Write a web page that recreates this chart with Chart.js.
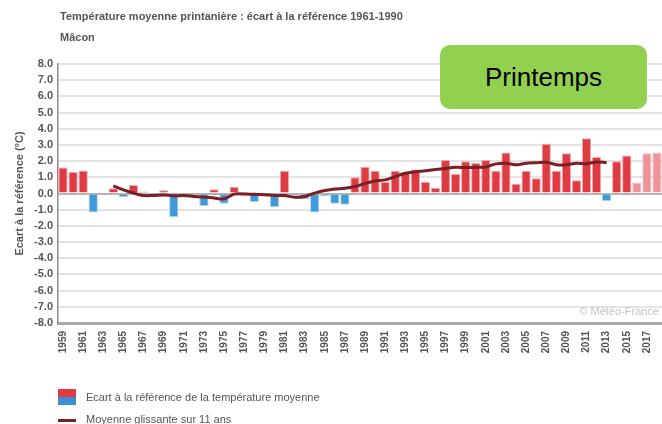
<!DOCTYPE html>
<html>
<head>
<meta charset="utf-8">
<script src="https://cdn.jsdelivr.net/npm/chart.js@4"></script>
<style>
  body { margin: 0; background: #fff; font-family: Arial, "Liberation Sans", sans-serif; }
  #wrap { position: relative; width: 662px; height: 424px; overflow: hidden; }
  #chart { position: absolute; left: 0; top: 0; }
  .titre { position: absolute; left: 60px; top: 10px; font-size: 11px; font-weight: bold; color: #555; }
  .ville { position: absolute; left: 60px; top: 31px; font-size: 11px; font-weight: bold; color: #555; }
  .saison { position: absolute; left: 440px; top: 45px; width: 207px; height: 64px; border-radius: 10px;
            background: #92d050; color: #000; font-size: 26px; text-align: center; line-height: 64px; }
  .copy { position: absolute; right: 3px; top: 305px; font-size: 11px; color: #c4c4c4; }
  .leg { position: absolute; left: 86px; font-size: 11px; color: #555; }
  .swatch { position: absolute; left: 58px; top: 389px; width: 18px; height: 16px; }
  .swatch div { height: 8px; }
  .trait { position: absolute; left: 58px; top: 419px; width: 18px; height: 3px; background: #7a1f24; }
</style>
</head>
<body>
<div id="wrap">
  <canvas id="chart" width="662" height="424"></canvas>
  <div class="titre">Température moyenne printanière : écart à la référence 1961-1990</div>
  <div class="ville">Mâcon</div>
  <div class="saison">Printemps</div>
  <div class="copy">© Météo-France</div>
  <div class="swatch"><div style="background:#df3b42"></div><div style="background:#3a8fd6"></div></div>
  <div class="leg" style="top:391px">Ecart à la référence de la température moyenne</div>
  <div class="trait"></div>
  <div class="leg" style="top:413px">Moyenne glissante sur 11 ans</div>
</div>
<script>
const annees = ['1959','1960','1961','1962','1963','1964','1965','1966','1967','1968',
  '1969','1970','1971','1972','1973','1974','1975','1976','1977','1978',
  '1979','1980','1981','1982','1983','1984','1985','1986','1987','1988',
  '1989','1990','1991','1992','1993','1994','1995','1996','1997','1998',
  '1999','2000','2001','2002','2003','2004','2005','2006','2007','2008',
  '2009','2010','2011','2012','2013','2014','2015','2016','2017','2018'];

// écart à la référence 1961-1990 (°C)
const ecarts = [1.6, 1.33, 1.42, -1.18, 0.08, 0.33, -0.23, 0.53, 0.13, 0.0,
  0.2, -1.47, -0.04, -0.04, -0.77, 0.27, -0.64, 0.42, 0.1, -0.52,
  -0.02, -0.85, 1.4, -0.1, -0.35, -1.18, -0.15, -0.64, -0.7, 1.0,
  1.66, 1.4, 0.72, 1.4, 1.32, 1.48, 0.72, 0.35, 2.07, 1.2,
  2.0, 1.88, 2.07, 1.41, 2.54, 0.6, 1.41, 0.94, 3.08, 1.41,
  2.48, 0.82, 3.41, 2.26, -0.46, 2.0, 2.34, 0.68, 2.48, 2.54];

// moyenne glissante sur 11 ans
const moyenne = [null, null, null, null, null, 0.47, 0.22, 0.03, -0.13, -0.12,
  -0.09, -0.14, -0.13, -0.18, -0.22, -0.28, -0.33, -0.04, -0.03, -0.05,
  -0.08, -0.12, -0.13, -0.23, -0.18, 0.02, 0.18, 0.28, 0.32, 0.43,
  0.62, 0.77, 0.84, 1.04, 1.25, 1.35, 1.4, 1.48, 1.55, 1.62,
  1.6, 1.62, 1.64, 1.83, 1.87, 1.77, 1.87, 1.9, 1.93, 1.78,
  1.78, 1.87, 1.84, 1.95, 1.91, null, null, null, null, null];

const anneesProvisoires = ['2016', '2017', '2018'];
const yTicks = [-8, -7, -6, -5, -4, -3, -2, -1, 0, 1, 2, 3, 4, 5, 6, 7, 8];

const couleurs = ecarts.map((v, i) => {
  if (anneesProvisoires.includes(annees[i])) return '#ee9397';
  return v >= 0 ? '#df3b42' : '#3f9ad8';
});
const bordures = ecarts.map((v, i) => {
  if (anneesProvisoires.includes(annees[i])) return '#f7c8ca';
  return v >= 0 ? '#f1a9ac' : '#a9d2ef';
});

const ctx = document.getElementById('chart').getContext('2d');
new Chart(ctx, {
  data: {
    labels: annees,
    datasets: [{
      type: 'line',
      label: 'Moyenne glissante sur 11 ans',
      data: moyenne,
      borderColor: '#7a1f24',
      borderWidth: 3,
      pointRadius: 0,
      tension: 0.3,
      spanGaps: false,
      order: 0
    }, {
      type: 'bar',
      label: 'Ecart à la référence de la température moyenne',
      data: ecarts,
      backgroundColor: couleurs,
      borderColor: bordures,
      borderWidth: 1,
      categoryPercentage: 1,
      barPercentage: 0.92,
      order: 1
    }]
  },
  options: {
    responsive: false,
    animation: false,
    layout: { padding: { top: 64, left: 0, right: 0, bottom: 61 } },
    plugins: {
      legend: { display: false },
      tooltip: { enabled: false }
    },
    scales: {
      x: {
        grid: { display: false },
        border: { color: '#aaaaaa', width: 3 },
        ticks: {
          autoSkip: false,
          maxRotation: 90,
          minRotation: 90,
          padding: 0,
          color: '#555',
          font: { family: 'Arial, "Liberation Sans"', size: 10, weight: 'bold' },
          callback: function(val, i) { return i % 2 === 0 ? this.getLabelForValue(val) : ''; }
        },
        afterFit: s => { s.height = 40; s.paddingRight = 0; s.paddingLeft = 0; }
      },
      y: {
        min: -8,
        max: 8,
        afterBuildTicks: s => { s.ticks = yTicks.map(v => ({ value: v })); },
        grid: {
          color: c => c.tick && c.tick.value === 0 ? '#b4b4b4' : '#e4e4e4',
          lineWidth: 2,
          drawTicks: false
        },
        border: { color: '#8a8a8a', width: 1.5 },
        title: {
          display: true,
          text: 'Ecart à la référence (°C)',
          color: '#555',
          font: { family: 'Arial, "Liberation Sans"', size: 11, weight: 'bold' },
          padding: { top: 13, bottom: 0 }
        },
        ticks: {
          autoSkip: false,
          padding: 5,
          color: '#555',
          font: { family: 'Arial, "Liberation Sans"', size: 11, weight: 'bold' },
          callback: v => v.toFixed(1)
        },
        afterFit: s => { s.width = 58; s.paddingTop = 0; s.paddingBottom = 0; }
      }
    }
  }
});
</script>
</body>
</html>
